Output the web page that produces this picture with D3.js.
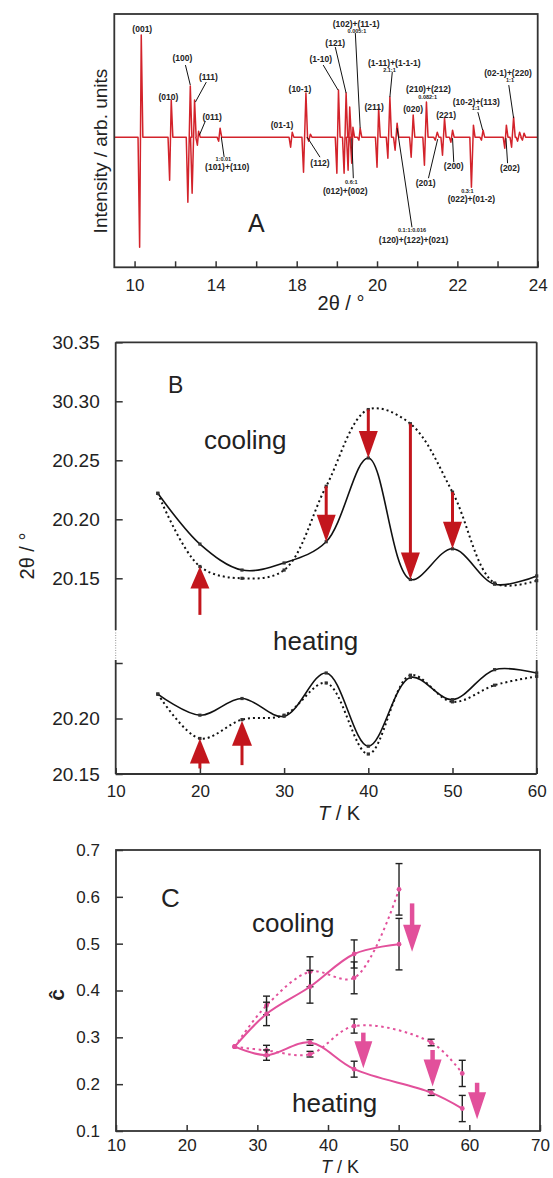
<!DOCTYPE html>
<html>
<head>
<meta charset="UTF-8">
<title>Peak shifts, cooling vs heating</title>
<script src="https://cdnjs.cloudflare.com/ajax/libs/d3/7.8.5/d3.min.js"></script>
<style>
body { margin: 0; background: #fff; }
svg text { font-family: "Liberation Sans", Arial, sans-serif; fill: #222; }
.axis path.domain { display: none; }
.axis line { stroke: #333; stroke-width: 1.5; }
.frame { stroke: #333; stroke-width: 1.8; fill: none; }
.lbl { font-weight: bold; font-size: 8.5px; }
.ratio { font-weight: bold; font-size: 5.5px; }
</style>
</head>
<body>
<script>
// ---------- panel A : difference pattern ----------
var aTicks = [10, 12, 14, 16, 18, 19, 20, 21, 22, 23, 24];
var aTickLabels = [10, 14, 18, 20, 22, 24];
// each reflection: negative lobe position / depth, positive lobe position / height (arb. units)
var peakDownPos = [10.25, 11.73, 12.63, 12.84, 13.10, 14.15, 17.70, 18.17, 18.30, 19.00, 19.18, 19.28, 19.37, 19.55, 20.00, 20.27, 20.45, 20.85, 21.18, 21.45, 21.63, 21.84, 22.35, 22.60, 23.18, 23.35, 23.50, 23.62];
var peakDown    = [-110, -43, -65, -56, -8, -4, -10, -35, -4, -36, -36, -33, -26, -3, -30, -21, -13, -20, -28, -3, -18, -5, -50, -3, -11, -10, -4, -3];
var peakUpPos   = [10.33, 11.81, 12.75, 12.96, 13.16, 14.22, 17.78, 18.23, 18.34, 19.04, 19.23, 19.32, 19.40, 19.58, 20.04, 20.32, 20.50, 20.90, 21.23, 21.50, 21.68, 21.88, 22.40, 22.64, 23.22, 23.40, 23.55, 23.66];
var peakUp      = [102, 37, 51, 37, 6, 9, 5, 44, 3, 47, 44, 30, 10, 9, 29, 40, 14, 22, 35, 5, 19, 7, 12, 7, 12, 20, 5, 4];

// annotations: [text, 2theta, intensity, kind]
var aLabels = [
  ["(001)", 10.38, 108, "lbl"], ["(010)", 11.67, 40, "lbl"], ["(100)", 12.36, 79, "lbl"],
  ["(111)", 13.64, 60, "lbl"], ["(011)", 13.83, 20, "lbl"], ["1:0.01", 14.38, -22, "ratio"],
  ["(101)+(110)", 14.57, -30, "lbl"], ["(01-1)", 17.28, 12, "lbl"], ["(10-1)", 18.08, 48, "lbl"],
  ["(112)", 18.58, -26, "lbl"], ["(1-10)", 18.6, 78, "lbl"], ["(121)", 18.96, 94, "lbl"],
  ["(102)+(11-1)", 19.48, 113, "lbl"], ["0.005:1", 19.5, 106, "ratio"], ["0.6:1", 19.36, -45, "ratio"],
  ["(012)+(002)", 19.21, -54, "lbl"], ["(211)", 19.93, 30, "lbl"], ["(1-11)+(1-1-1)", 20.43, 74, "lbl"],
  ["2.1:1", 20.31, 67, "ratio"], ["(020)", 20.9, 28, "lbl"], ["(210)+(212)", 21.28, 48, "lbl"],
  ["0.082:1", 21.26, 40, "ratio"], ["(221)", 21.72, 22, "lbl"], ["(201)", 21.21, -46, "lbl"],
  ["(200)", 21.91, -29, "lbl"], ["0.3:1", 22.25, -54, "ratio"], ["(022)+(01-2)", 22.35, -62, "lbl"],
  ["(10-2)+(113)", 22.47, 35, "lbl"], ["1:1", 22.46, 29, "ratio"], ["(02-1)+(220)", 23.26, 64, "lbl"],
  ["1:1", 23.31, 57, "ratio"], ["(202)", 23.31, -31, "lbl"], ["0.1:1:0.016", 20.87, -93, "ratio"],
  ["(120)+(122)+(021)", 20.91, -103, "lbl"]
];
// leader lines: [2theta1, int1, 2theta2, int2]
var aLeaders = [
  [12.51, 72, 12.75, 52], [13.54, 55, 13.0, 35], [13.49, 16, 13.2, 2], [14.28, 0, 14.42, -20],
  [18.26, 0, 18.58, -20], [18.66, 72, 19.03, 47], [18.96, 90, 19.23, 44], [19.46, 104, 19.58, 9],
  [19.37, -1, 19.41, -41], [20.38, 65, 20.32, 40], [21.28, -41, 21.51, -2], [21.91, -25, 21.88, -1],
  [22.51, 25, 22.63, 7], [23.28, 52, 23.4, 19], [23.25, -26, 23.21, -1], [20.87, -90, 20.5, 9]
];

// ---------- panel B : peak position vs T ----------
var bT = [15, 20, 25, 30, 35, 40, 45, 50, 55, 60];
var coolSolid  = [20.222, 20.179, 20.157, 20.163, 20.181, 20.252, 20.149, 20.175, 20.145, 20.152];
var coolDotted = [20.222, 20.160, 20.150, 20.157, 20.228, 20.293, 20.281, 20.223, 20.146, 20.148];
var heatSolid  = [20.222, 20.203, 20.218, 20.202, 20.241, 20.175, 20.237, 20.217, 20.244, 20.241];
var heatDotted = [20.222, 20.182, 20.199, 20.203, 20.232, 20.168, 20.239, 20.215, 20.230, 20.238];
var bYTicks = [20.15, 20.20, 20.25, 20.30, 20.35];
var bYTickLabels = ["20.15", "20.20", "20.25", "30.30", "30.35"];
var bYTicksLow = [20.15, 20.20, 20.25];
var bYTickLabelsLow = ["20.15", "20.20", ""];
var bXTicks = [10, 20, 30, 40, 50, 60];
// arrows: [T, from, to]
var bArrowsCool = [[20, 20.119, 20.160], [35, 20.228, 20.181], [40, 20.293, 20.252], [45, 20.281, 20.149], [50, 20.223, 20.175]];
var bArrowsHeat = [[20, 20.155, 20.182], [25, 20.158, 20.198]];

// ---------- panel C : c-hat vs T ----------
var cCoolT = [26.8, 31.3, 37.45, 43.7, 50.05];
var cCoolSolid = [0.28, 0.350, 0.408, 0.478, 0.499];
var cCoolSolidErr = [0, 0.025, 0.035, 0.03, 0.055];
var cCoolDotted = [0.28, 0.368, 0.440, 0.427, 0.616];
var cCoolDottedErr = [0, 0.02, 0.032, 0.034, 0.055];
var cHeatT = [26.8, 31.3, 37.45, 43.7, 54.6, 59];
var cHeatSolid = [0.28, 0.262, 0.289, 0.232, 0.182, 0.148];
var cHeatSolidErr = [0, 0.011, 0.006, 0.017, 0.006, 0.028];
var cHeatDotted = [0.28, 0.272, 0.264, 0.324, 0.289, 0.223];
var cHeatDottedErr = [0, 0.011, 0.006, 0.015, 0.007, 0.028];
var cXTicks = [10, 20, 30, 40, 50, 60, 70];
var cYTicks = [0.1, 0.2, 0.3, 0.4, 0.5, 0.6, 0.7];
var cArrows = [[51.9, 0.586, 0.483], [45.0, 0.31, 0.234], [54.8, 0.273, 0.195], [61.1, 0.203, 0.125]];

var RED = "#d3232b", DARKRED = "#c3161d", PINK = "#e2509b";

var svg = d3.select("body").append("svg")
    .attr("width", 553)
    .attr("height", 1178);
svg.append("rect").attr("width", 553).attr("height", 1178).attr("fill", "#fff");

function arrow(g, x, y0, y1, color, headW, headH, shaftW) {
  var dir = y1 > y0 ? 1 : -1;
  var base = y1 - dir * headH;
  g.append("line").attr("x1", x).attr("x2", x).attr("y1", y0).attr("y2", base + dir * 1)
    .attr("stroke", color).attr("stroke-width", shaftW);
  g.append("path")
    .attr("d", "M" + (x - headW / 2) + "," + base + "L" + (x + headW / 2) + "," + base + "L" + x + "," + y1 + "Z")
    .attr("fill", color);
}

// ================= A =================
var xA = d3.scaleLinear().domain([9, 18, 24]).range([114.3, 296.7, 537.7]);
var yA = d3.scaleLinear().domain([-130, 123]).range([267.3, 14]);
var gA = svg.append("g");

gA.append("g").attr("class", "axis")
    .attr("transform", "translate(0,267.3)")
    .call(d3.axisBottom(xA).tickValues(aTicks).tickSizeInner(-6).tickSizeOuter(0)
      .tickFormat(function(d) { return aTickLabels.indexOf(d) >= 0 ? d : ""; }))
    .selectAll("text").attr("y", 12).attr("dy", "0.71em").style("font-size", "17px");

var specPts = [[xA(9), yA(0)]];
peakDownPos.forEach(function(p, i) {
  var xd = xA(p), xu = xA(peakUpPos[i]);
  specPts.push([xd - 1.6, yA(0)], [xd, yA(peakDown[i])], [xu, yA(peakUp[i])], [xu + 1.6, yA(0)]);
});
specPts.push([xA(24), yA(0)]);
gA.append("path").attr("d", d3.line()(specPts))
    .attr("fill", "none").attr("stroke", RED).attr("stroke-width", 1.5).attr("stroke-linejoin", "round");

gA.selectAll(".leader").data(aLeaders).enter().append("line")
    .attr("x1", function(d) { return xA(d[0]); }).attr("y1", function(d) { return yA(d[1]); })
    .attr("x2", function(d) { return xA(d[2]); }).attr("y2", function(d) { return yA(d[3]); })
    .attr("stroke", "#111").attr("stroke-width", 1);

gA.selectAll(".alab").data(aLabels).enter().append("text")
    .attr("class", function(d) { return d[3]; })
    .attr("x", function(d) { return xA(d[1]); })
    .attr("y", function(d) { return yA(d[2]); })
    .attr("dy", "0.35em")
    .attr("text-anchor", "middle")
    .text(function(d) { return d[0]; });

gA.append("rect").attr("class", "frame").attr("x", 114.3).attr("y", 14).attr("width", 423.4).attr("height", 253.3);
gA.append("text").attr("x", 248).attr("y", 232).style("font-size", "25px").text("A");
gA.append("text").attr("transform", "translate(100,151) rotate(-90)").attr("text-anchor", "middle")
    .attr("dy", "0.35em").style("font-size", "19px").text("Intensity / arb. units");
gA.append("text").attr("x", 341).attr("y", 310).attr("text-anchor", "middle").style("font-size", "20px").text("2θ  / °");

// ================= B =================
var xB = d3.scaleLinear().domain([10, 60]).range([115.7, 536.7]);
var yB1 = d3.scaleLinear().domain([20.15, 20.35]).range([578.3, 342.3]);
var yB2 = d3.scaleLinear().domain([20.15, 20.25]).range([774, 663]);
var gB = svg.append("g");

gB.append("g").attr("class", "axis").attr("transform", "translate(115.7,0)")
    .call(d3.axisLeft(yB1).tickValues(bYTicks).tickSizeInner(-7).tickSizeOuter(0).tickPadding(16)
      .tickFormat(function(d, i) { return bYTickLabels[i]; }))
    .selectAll("text").style("font-size", "19px");
gB.append("g").attr("class", "axis").attr("transform", "translate(115.7,0)")
    .call(d3.axisLeft(yB2).tickValues(bYTicksLow).tickSizeInner(-7).tickSizeOuter(0).tickPadding(16)
      .tickFormat(function(d, i) { return bYTickLabelsLow[i]; }))
    .selectAll("text").style("font-size", "19px");
gB.append("g").attr("class", "axis").attr("transform", "translate(0,774)")
    .call(d3.axisBottom(xB).tickValues(bXTicks).tickSizeInner(-6).tickSizeOuter(0))
    .selectAll("text").attr("y", 11).attr("dy", "0.71em").style("font-size", "17px");

var lineB1 = d3.line().curve(d3.curveCatmullRom.alpha(0.5))
    .x(function(d) { return xB(d[0]); }).y(function(d) { return yB1(d[1]); });
var lineB2 = d3.line().curve(d3.curveCatmullRom.alpha(0.5))
    .x(function(d) { return xB(d[0]); }).y(function(d) { return yB2(d[1]); });

function bSeries(vals, line, dotted, yS) {
  var pts = bT.map(function(t, i) { return [t, vals[i]]; });
  gB.append("path").attr("d", line(pts)).attr("fill", "none").attr("stroke", "#111")
    .attr("stroke-width", dotted ? 2 : 1.6).attr("stroke-dasharray", dotted ? "2,3" : null);
  gB.selectAll(null).data(pts).enter().append("rect")
    .attr("x", function(d) { return xB(d[0]) - 1.6; }).attr("y", function(d) { return yS(d[1]) - 1.6; })
    .attr("width", 3.2).attr("height", 3.2).attr("fill", "#333");
}
bSeries(coolDotted, lineB1, true, yB1);
bSeries(coolSolid, lineB1, false, yB1);
bSeries(heatDotted, lineB2, true, yB2);
bSeries(heatSolid, lineB2, false, yB2);

bArrowsCool.forEach(function(a) { arrow(gB, xB(a[0]), yB1(a[1]), yB1(a[2]), DARKRED, 19, a[2] > a[1] ? 22 : 27, 3); });
bArrowsHeat.forEach(function(a) { arrow(gB, xB(a[0]), yB2(a[1]), yB2(a[2]), DARKRED, 20, 25, 3); });

// broken frame
var frameB = [[115.7, 342.3, 536.7, 342.3], [115.7, 342.3, 115.7, 630], [536.7, 342.3, 536.7, 630],
              [115.7, 660, 115.7, 774], [536.7, 660, 536.7, 774], [115.7, 774, 536.7, 774]];
frameB.forEach(function(s) {
  gB.append("line").attr("class", "frame").attr("x1", s[0]).attr("y1", s[1]).attr("x2", s[2]).attr("y2", s[3]);
});
[115.7, 536.7].forEach(function(x) {
  gB.append("line").attr("x1", x).attr("x2", x).attr("y1", 630).attr("y2", 660)
    .attr("stroke", "#777").attr("stroke-width", 0.8).attr("stroke-dasharray", "1,1.5");
});

gB.append("text").attr("x", 168).attr("y", 393).style("font-size", "23px").text("B");
gB.append("text").attr("x", 204).attr("y", 449).style("font-size", "26px").text("cooling");
gB.append("text").attr("x", 273).attr("y", 650).style("font-size", "26px").text("heating");
gB.append("text").attr("transform", "translate(27,556) rotate(-90)").attr("text-anchor", "middle")
    .attr("dy", "0.35em").style("font-size", "20px").text("2θ  / °");
var tk = gB.append("text").attr("x", 339).attr("y", 820).attr("text-anchor", "middle").style("font-size", "20px");
tk.append("tspan").style("font-style", "italic").text("T");
tk.append("tspan").text(" / K");

// ================= C =================
var xC = d3.scaleLinear().domain([10, 70]).range([116, 540]);
var yC = d3.scaleLinear().domain([0.1, 0.7]).range([1131, 850]);
var gC = svg.append("g");

gC.append("g").attr("class", "axis").attr("transform", "translate(116,0)")
    .call(d3.axisLeft(yC).tickValues(cYTicks).tickSizeInner(-7).tickSizeOuter(0).tickPadding(16)
      .tickFormat(d3.format(".1f")))
    .selectAll("text").style("font-size", "17px");
gC.append("g").attr("class", "axis").attr("transform", "translate(0,1131)")
    .call(d3.axisBottom(xC).tickValues(cXTicks).tickSizeInner(-6).tickSizeOuter(0))
    .selectAll("text").attr("y", 8).attr("dy", "0.71em").style("font-size", "17px");

var lineC = d3.line().curve(d3.curveCatmullRom.alpha(0.5))
    .x(function(d) { return xC(d[0]); }).y(function(d) { return yC(d[1]); });

function cSeries(ts, vals, errs, dotted) {
  var pts = ts.map(function(t, i) { return [t, vals[i], errs[i]]; });
  gC.append("path").attr("d", lineC(pts)).attr("fill", "none").attr("stroke", PINK)
    .attr("stroke-width", 2).attr("stroke-dasharray", dotted ? "2.5,3.5" : null);
  var eb = gC.selectAll(null).data(pts.filter(function(d) { return d[2] > 0; })).enter().append("g");
  eb.append("line").attr("x1", function(d) { return xC(d[0]); }).attr("x2", function(d) { return xC(d[0]); })
    .attr("y1", function(d) { return yC(d[1] - d[2]); }).attr("y2", function(d) { return yC(d[1] + d[2]); })
    .attr("stroke", "#222").attr("stroke-width", 1.4);
  [-1, 1].forEach(function(s) {
    eb.append("line").attr("x1", function(d) { return xC(d[0]) - 3.5; }).attr("x2", function(d) { return xC(d[0]) + 3.5; })
      .attr("y1", function(d) { return yC(d[1] + s * d[2]); }).attr("y2", function(d) { return yC(d[1] + s * d[2]); })
      .attr("stroke", "#222").attr("stroke-width", 1.4);
  });
  gC.selectAll(null).data(pts).enter().append("circle")
    .attr("cx", function(d) { return xC(d[0]); }).attr("cy", function(d) { return yC(d[1]); })
    .attr("r", 2.4).attr("fill", PINK);
}
cSeries(cCoolT, cCoolDotted, cCoolDottedErr, true);
cSeries(cCoolT, cCoolSolid, cCoolSolidErr, false);
cSeries(cHeatT, cHeatDotted, cHeatDottedErr, true);
cSeries(cHeatT, cHeatSolid, cHeatSolidErr, false);

cArrows.forEach(function(a) { arrow(gC, xC(a[0]), yC(a[1]), yC(a[2]), PINK, 18, 27, 4.5); });

gC.append("rect").attr("class", "frame").attr("x", 116).attr("y", 850).attr("width", 424).attr("height", 281);
gC.append("text").attr("x", 161).attr("y", 906.7).style("font-size", "26px").text("C");
gC.append("text").attr("x", 252).attr("y", 931.7).style("font-size", "26px").text("cooling");
gC.append("text").attr("x", 292).attr("y", 1111.7).style("font-size", "26px").text("heating");
gC.append("text").attr("transform", "translate(57,995) rotate(-90)").attr("text-anchor", "middle")
    .attr("dy", "0.35em").style("font-size", "21px").style("font-weight", "bold").text("ĉ");
var tk2 = gC.append("text").attr("x", 340).attr("y", 1173).attr("text-anchor", "middle").style("font-size", "18px");
tk2.append("tspan").style("font-style", "italic").text("T");
tk2.append("tspan").text(" / K");
</script>
</body>
</html>
